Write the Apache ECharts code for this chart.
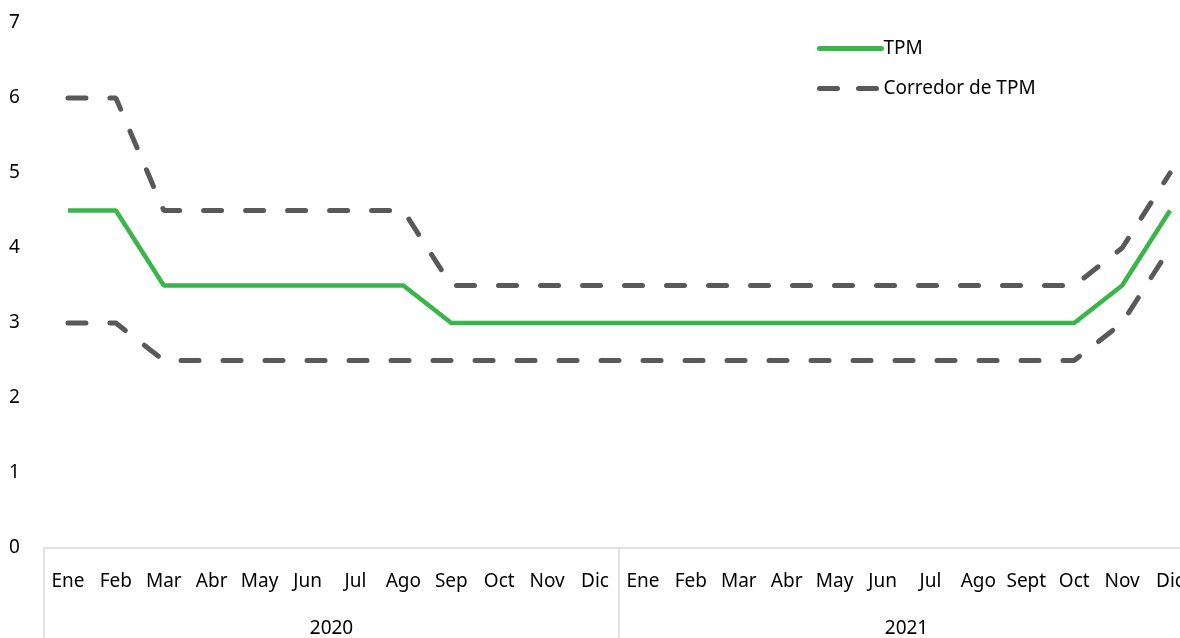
<!DOCTYPE html>
<html>
<head>
<meta charset="utf-8">
<script src="https://cdn.jsdelivr.net/npm/echarts@6/dist/echarts.min.js"></script>
<style>
  html, body { margin: 0; padding: 0; background: #fff; }
  #main { width: 1180px; height: 638px; }
</style>
</head>
<body>
<div id="main"></div>
<script>
// months for 2020 and 2021
const months = ["Ene", "Feb", "Mar", "Abr", "May", "Jun", "Jul", "Ago", "Sep", "Oct", "Nov", "Dic",
  "Ene", "Feb", "Mar", "Abr", "May", "Jun", "Jul", "Ago", "Sept", "Oct", "Nov", "Dic"];
const years = ["2020", "2021"];

const tpm = [4.5, 4.5, 3.5, 3.5, 3.5, 3.5, 3.5, 3.5, 3, 3, 3, 3,
  3, 3, 3, 3, 3, 3, 3, 3, 3, 3, 3.5, 4.5];
const corredorSup = [6, 6, 4.5, 4.5, 4.5, 4.5, 4.5, 4.5, 3.5, 3.5, 3.5, 3.5,
  3.5, 3.5, 3.5, 3.5, 3.5, 3.5, 3.5, 3.5, 3.5, 3.5, 4, 5];
const corredorInf = [3, 3, 2.5, 2.5, 2.5, 2.5, 2.5, 2.5, 2.5, 2.5, 2.5, 2.5,
  2.5, 2.5, 2.5, 2.5, 2.5, 2.5, 2.5, 2.5, 2.5, 2.5, 3, 4];

const font = "Noto Sans, sans-serif";
const gray = "#595959";
const green = "#3ab54a";
const dash = {
  color: gray,
  width: 5,
  type: [18, 24],
  cap: "round",
};

var chart = echarts.init(document.getElementById("main"));
var option = {
  animation: false,
  textStyle: { fontFamily: font },
  legend: {
    orient: "vertical",
    left: 812,
    top: 34,
    itemWidth: 62,
    itemHeight: 14,
    itemGap: 21,
    data: [
      { name: "TPM", lineStyle: { width: 5, cap: "round" } },
      { name: "Corredor de TPM", lineStyle: { width: 5, cap: "round", type: [18, 21] } },
    ],
    itemStyle: { opacity: 0 },
    textStyle: { fontSize: 19, color: "#000", fontFamily: font, padding: [0, 0, 0, -3] },
  },
  grid: { left: 44, top: 23, width: 1150, height: 525, outerBoundsMode: "none", containLabel: false },
  xAxis: [
    {
      type: "category",
      data: months,
      axisLine: { lineStyle: { color: "#d9d9d9", width: 1.5 } },
      axisTick: { show: false },
      axisLabel: { interval: 0, margin: 24, fontSize: 19, color: "#000", fontFamily: font },
    },
    {
      type: "category",
      data: years,
      position: "bottom",
      axisLine: { show: false },
      axisTick: { show: true, length: 92, inside: false, lineStyle: { color: "#d9d9d9", width: 1.5 } },
      axisLabel: { interval: 0, margin: 71, fontSize: 19, color: "#000", fontFamily: font },
    },
  ],
  yAxis: {
    type: "value",
    min: 0,
    max: 7,
    interval: 1,
    splitLine: { show: false },
    axisLine: { show: false },
    axisLabel: { align: "left", margin: 35, fontSize: 19, color: "#000", fontFamily: font },
  },
  series: [
    {
      name: "Corredor de TPM",
      type: "line",
      data: corredorSup,
      symbol: "none",
      lineStyle: dash,
      itemStyle: { color: gray },
    },
    {
      name: "Corredor inf",
      type: "line",
      data: corredorInf,
      symbol: "none",
      lineStyle: dash,
      itemStyle: { color: gray },
    },
    {
      name: "TPM",
      type: "line",
      data: tpm,
      symbol: "none",
      lineStyle: { color: green, width: 4.5 },
      itemStyle: { color: green },
    },
  ],
};
option && chart.setOption(option);
</script>
</body>
</html>
